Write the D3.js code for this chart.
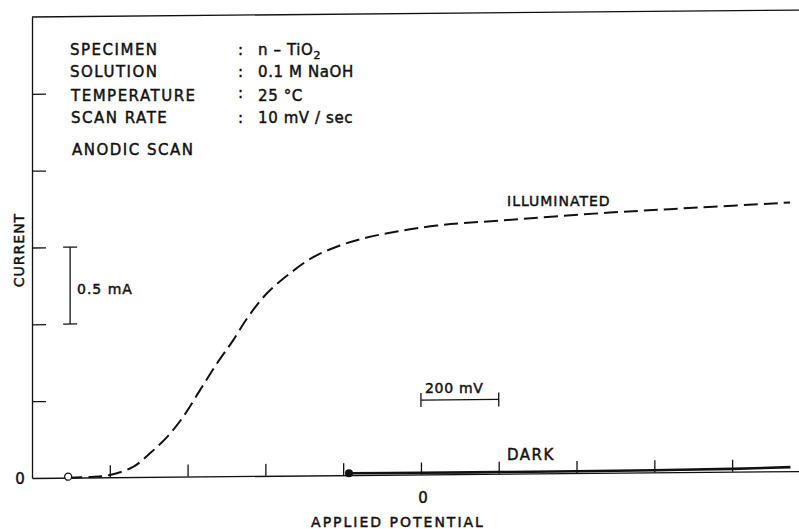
<!DOCTYPE html>
<html>
<head>
<meta charset="utf-8">
<script src="https://cdn.jsdelivr.net/npm/d3@7"></script>
<style>
  body { margin: 0; background: #fff; }
  text { font-family: "DejaVu Sans", sans-serif; fill: #111; stroke: #111; stroke-width: 0.45px; }
</style>
</head>
<body>
<svg id="chart" width="799" height="529"></svg>
<script>
// potential in mV (vs. the "0" mark), current in mA
const illumPotential = [-907, -850, -800, -740, -696, -653, -612, -568, -524, -483, -445, -396, -337, -278, -208, -139, -62, 41, 203, 486, 717, 949];
const illumCurrent   = [0.0, 0.003, 0.015, 0.066, 0.155, 0.258, 0.387, 0.562, 0.736, 0.884, 1.033, 1.188, 1.316, 1.419, 1.495, 1.545, 1.582, 1.619, 1.648, 1.693, 1.721, 1.748];

const darkPotential = [-185, 0, 200, 400, 600, 800, 950];
const darkCurrent   = [0.012, 0.011, 0.011, 0.012, 0.014, 0.018, 0.026];

const xTicks = [-800, -600, -400, -200, 0, 200, 400, 600, 800];
const yTicks = [0.5, 1.0, 1.5, 2.0, 2.5];

const infoLabels = ["SPECIMEN", "SOLUTION", "TEMPERATURE", "SCAN RATE"];
const infoValues = ["n – TiO", "0.1 M  NaOH", "25 °C", "10 mV / sec"];

const svg = d3.select("#chart");

const x = d3.scaleLinear().domain([-1000, 972]).range([32, 799]);
const y = d3.scaleLinear().domain([0, 3]).range([478, 17]);

// the scanned figure leans a little, right side higher
const plot = svg.append("g")
    .attr("transform", "translate(32,478) skewY(-0.52) translate(-32,-478)");

// Axes
plot.append("g")
    .attr("transform", `translate(${x(-1000)},0)`)
    .call(d3.axisLeft(y).tickValues(yTicks).tickSize(-14).tickSizeOuter(0).tickFormat(""))
    .call(g => g.selectAll("line, path").attr("stroke", "#111").attr("stroke-width", 1.3));

plot.append("g")
    .attr("transform", `translate(0,${y(0)})`)
    .call(d3.axisBottom(x).tickValues(xTicks).tickSize(-12).tickSizeOuter(0).tickFormat(""))
    .call(g => g.selectAll("line, path").attr("stroke", "#111").attr("stroke-width", 1.3));

// top frame line
plot.append("line")
    .attr("x1", x(-1000)).attr("x2", x(972))
    .attr("y1", y(3)).attr("y2", y(3))
    .attr("stroke", "#111").attr("stroke-width", 1.3);

// Curves
const illum = illumPotential.map((p, i) => ({p, c: illumCurrent[i]}));
const dark = darkPotential.map((p, i) => ({p, c: darkCurrent[i]}));

const line = d3.line().x(d => x(d.p)).y(d => y(d.c)).curve(d3.curveCatmullRom.alpha(0.5));

plot.append("path")
    .datum(illum)
    .attr("d", line)
    .attr("fill", "none")
    .attr("stroke", "#111")
    .attr("stroke-width", 2)
    .attr("stroke-dasharray", "14,6");

plot.append("path")
    .datum(dark)
    .attr("d", line)
    .attr("fill", "none")
    .attr("stroke", "#111")
    .attr("stroke-width", 2.6);

// start points
plot.append("circle")
    .attr("cx", x(illumPotential[0])).attr("cy", y(illumCurrent[0]) - 1)
    .attr("r", 3.5)
    .attr("fill", "#fff").attr("stroke", "#111").attr("stroke-width", 1.3);

plot.append("circle")
    .attr("cx", x(darkPotential[0])).attr("cy", y(darkCurrent[0]))
    .attr("r", 4)
    .attr("fill", "#111");

// scale bars
const barI = plot.append("g").attr("stroke", "#111").attr("stroke-width", 1.3);
barI.append("line").attr("x1", x(-902)).attr("x2", x(-902)).attr("y1", y(1.0)).attr("y2", y(1.5));
barI.append("line").attr("x1", x(-902) - 7).attr("x2", x(-902) + 7).attr("y1", y(1.0)).attr("y2", y(1.0));
barI.append("line").attr("x1", x(-902) - 7).attr("x2", x(-902) + 7).attr("y1", y(1.5)).attr("y2", y(1.5));

const barV = plot.append("g").attr("stroke", "#111").attr("stroke-width", 1.3);
barV.append("line").attr("x1", x(0)).attr("x2", x(200)).attr("y1", y(0.484)).attr("y2", y(0.484));
barV.append("line").attr("x1", x(0)).attr("x2", x(0)).attr("y1", y(0.484) - 7).attr("y2", y(0.484) + 7);
barV.append("line").attr("x1", x(200)).attr("x2", x(200)).attr("y1", y(0.484) - 7).attr("y2", y(0.484) + 7);

// Text
const info = svg.append("g").attr("font-size", 15).attr("letter-spacing", 1.5);
const rowsY = [55, 77, 101, 123];
info.selectAll("text.lab")
    .data(infoLabels)
    .enter().append("text")
    .attr("class", "lab")
    .attr("x", (d, i) => 70 + (i > 1 ? 1 : 0))
    .attr("y", (d, i) => rowsY[i])
    .text(d => d);
info.selectAll("text.colon")
    .data(infoLabels)
    .enter().append("text")
    .attr("class", "colon")
    .attr("x", 238)
    .attr("y", (d, i) => rowsY[i] - (i === 2 ? 3 : 0))
    .text(":");
info.selectAll("text.val")
    .data(infoValues)
    .enter().append("text")
    .attr("class", "val")
    .attr("x", 258)
    .attr("y", (d, i) => rowsY[i])
    .attr("letter-spacing", 0.6)
    .text(d => d)
    .filter((d, i) => i === 0)
    .append("tspan")
    .attr("font-size", 11)
    .attr("dy", 4)
    .text("2");
info.append("text").attr("x", 72).attr("y", 155).text("ANODIC SCAN");

svg.append("text")
    .attr("x", 507).attr("y", 206)
    .attr("font-size", 14).attr("letter-spacing", 1)
    .text("ILLUMINATED");

svg.append("text")
    .attr("x", 507).attr("y", 460)
    .attr("font-size", 15).attr("letter-spacing", 1.5)
    .text("DARK");

svg.append("text")
    .attr("x", 77).attr("y", 294)
    .attr("font-size", 14).attr("letter-spacing", 1)
    .text("0.5 mA");

svg.append("text")
    .attr("x", 425).attr("y", 393)
    .attr("font-size", 14).attr("letter-spacing", 0.7)
    .text("200 mV");

svg.append("text")
    .attr("x", 20).attr("y", 484)
    .attr("font-size", 15).attr("text-anchor", "middle")
    .text("0");

svg.append("text")
    .attr("x", 423).attr("y", 503)
    .attr("font-size", 15).attr("text-anchor", "middle")
    .text("0");

svg.append("text")
    .attr("x", 398).attr("y", 527)
    .attr("font-size", 14).attr("letter-spacing", 2)
    .attr("text-anchor", "middle")
    .text("APPLIED POTENTIAL");

svg.append("text")
    .attr("transform", "translate(24,250) rotate(-90)")
    .attr("font-size", 14).attr("letter-spacing", 1)
    .attr("text-anchor", "middle")
    .text("CURRENT");
</script>
</body>
</html>
